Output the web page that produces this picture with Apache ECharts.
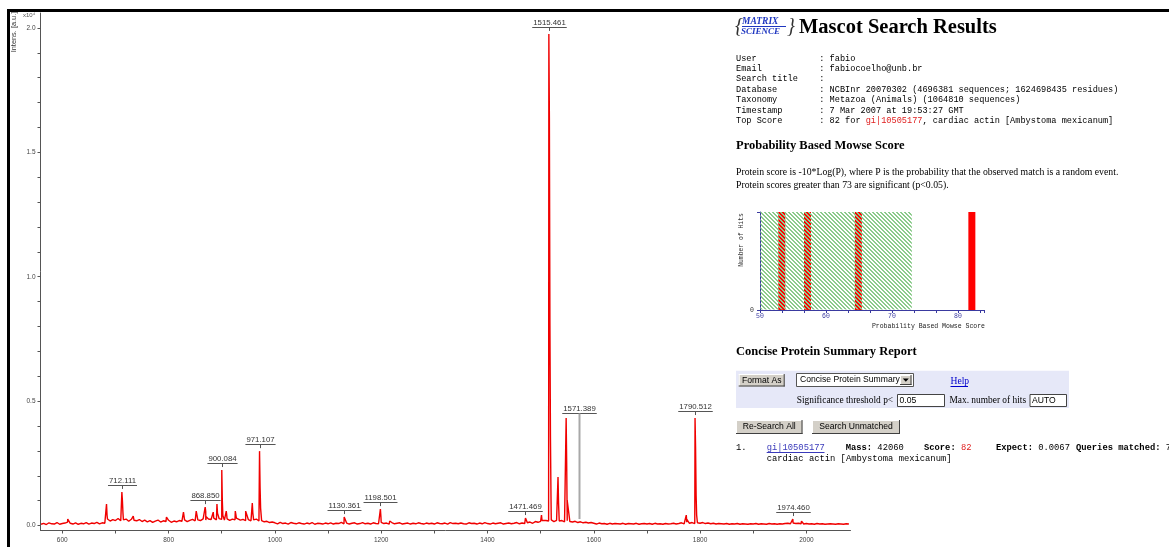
<!DOCTYPE html>
<html><head><meta charset="utf-8">
<script src="https://cdn.jsdelivr.net/npm/echarts@6/dist/echarts.min.js"></script>
<style>html,body{margin:0;padding:0;background:#fff}#c{width:1169px;height:547px}</style>
</head><body><div id="c"></div>
<script>
// ---------------- DATA ----------------
// Spectrum baseline noise, sampled every 5 Da from 560 Da (intensity in counts)
const baseStart = 560, baseStep = 5;
const baseNoise = [
  50, 90, 40, 110, 70, 60, 120, 50, 80, 100,        // 560-605
  140, 90, 60, 110, 50, 90, 70, 120, 60, 100,       // 610-655
  80, 130, 70, 110, 90,                             // 660-680
  260, 180, 240, 200, 280, 190, 230, 260, 170, 250, 210, 190, 240, 160, 220, // 685-755
  150, 200, 130, 180, 220, 140, 190, 160, 210, 130, // 760-805
  180, 150, 200, 170, 230, 160, 210, 250, 190, 230, // 810-855
  200, 270, 220, 260, 240, 300, 230, 280, 250, 220, // 860-905
  270, 210, 260, 230, 280, 220, 250, 200, 240, 190, // 910-955
  230, 260, 180, 200, 150, 170, 120, 140,           // 960-995
  110, 70, 130, 80, 100, 60, 120, 90, 70, 110,      // 1000
  80, 60, 100, 70, 120, 50, 90, 80, 60, 100,        // 1050
  70, 110, 60, 90, 80, 130, 70, 100, 60, 90,        // 1100
  110, 60, 80, 120, 70, 90, 60, 110, 80, 70,        // 1150
  130, 80, 100, 60, 120, 70, 90, 110, 60, 80,       // 1200
  100, 60, 90, 70, 110, 80, 60, 100, 70, 90,        // 1250
  60, 110, 80, 70, 100, 60, 120, 80, 90, 70,        // 1300
  100, 70, 60, 110, 80, 90, 60, 100, 70, 120,       // 1350
  80, 60, 100, 70, 90, 110, 60, 80, 100, 70,        // 1400
  90, 120, 70, 100, 80, 110, 140, 90, 160, 130,     // 1450
  170, 140, 200, 180, 230, 160, 210, 180, 200, 150, // 1500
  190, 160, 140, 170, 120, 150, 110, 130, 100, 120, // 1550
  90, 60, 100, 70, 80, 50, 90, 60, 80, 70,          // 1600
  60, 90, 50, 80, 70, 60, 90, 50, 70, 80,           // 1650
  60, 80, 50, 90, 60, 70, 50, 80, 60, 70,           // 1700
  90, 60, 80, 110, 70, 130, 90, 120, 80, 110,       // 1750
  90, 120, 80, 100, 70, 90, 60, 80, 70, 60,         // 1800
  80, 50, 70, 60, 80, 50, 70, 60, 50, 70,           // 1850
  60, 80, 50, 70, 60, 50, 80, 60, 70, 50,           // 1900
  70, 60, 80, 90, 70, 100, 80, 90, 70, 60,          // 1950
  80, 60, 70, 50, 80, 60, 70, 50, 60, 70,           // 2000
  60, 50, 70, 60, 50, 70, 60                        // 2050-2080
];
// Peaks: [m/z, intensity]
const peakPoints = [
  [610.2, 260],
  [683.2, 860], [684.2, 420], [685.2, 300],
  [712.11, 1350], [713.11, 1000], [714.11, 520], [715.1, 300],
  [733.5, 380], [796.0, 340], [828.0, 540], [852.0, 580],
  [868.85, 740], [869.85, 560], [870.85, 350],
  [884.0, 540], [891.0, 860], [892.0, 500],
  [900.08, 2230], [901.08, 1000], [902.08, 400],
  [908.5, 580], [909.5, 400],
  [925.5, 580], [926.5, 450], [927.5, 300],
  [945.0, 580], [957.5, 900], [958.5, 500],
  [971.11, 2990], [972.11, 1550], [973.11, 700],
  [1130.36, 340], [1198.5, 660], [1199.5, 350], [1216.0, 180],
  [1471.47, 300], [1501.6, 420], [1502.6, 200],
  [1515.46, 19760], [1516.46, 16340], [1517.46, 8140], [1518.46, 3560], [1519.46, 1200],
  [1532.7, 1950], [1533.7, 900],
  [1548.0, 4320], [1549.0, 2510], [1550.0, 1000],
  [1571.39, 140],
  [1774.0, 420], [1775.0, 250],
  [1790.51, 4320], [1791.51, 3120], [1792.51, 1230], [1793.51, 420],
  [1806.0, 200], [1974.46, 260], [1975.46, 150], [1990.8, 180], [2022.7, 140]
];
// Peak annotations
const labelMz   = [712.111, 868.850, 900.084, 971.107, 1130.361, 1198.501, 1471.469, 1515.461, 1571.389, 1790.512, 1974.460];
const labelText = ['712.111','868.850','900.084','971.107','1130.361','1198.501','1471.469','1515.461','1571.389','1790.512','1974.460'];
const labelLift = [0, 0, 0, 0, 0, 0, 0, 0, 4520, 0, 0]; // raised label level (counts), 0 = just above peak
// Spectrum axes
const xTicks  = [600,700,800,900,1000,1100,1200,1300,1400,1500,1600,1700,1800,1900,2000];
const xLabels = [600,800,1000,1200,1400,1600,1800,2000];
const yTicks  = [0,1000,2000,3000,4000,5000,6000,7000,8000,9000,10000,11000,12000,13000,14000,15000,16000,17000,18000,19000,20000];
const yLabels = [0,5000,10000,15000,20000];
// Mowse score histogram
const mowseScores = [53.3, 57.2, 64.9, 82.1];
const mowseHits   = [1, 1, 1, 1];
const mowseThreshold = 73;
// Mascot text
const infoLabels = ['User','Email','Search title','Database','Taxonomy','Timestamp','Top Score'];
const infoValues = [': fabio', ': fabiocoelho@unb.br', ':', ': NCBInr 20070302 (4696381 sequences; 1624698435 residues)',
                    ': Metazoa (Animals) (1064810 sequences)', ': 7 Mar 2007 at 19:53:27 GMT', ''];

// ---------------- BUILD ----------------
const spectrum = baseNoise.map((v, i) => [baseStart + i * baseStep, v]).concat(peakPoints).sort((a, b) => a[0] - b[0]);
function peakHeight(mz) { let b = 0; spectrum.forEach(p => { if (Math.abs(p[0] - mz) < 0.6 && p[1] > b) b = p[1]; }); return b; }
const labelData = labelMz.map((m, i) => [m, peakHeight(m), labelLift[i]]);

const SANS = '"Liberation Sans", Arial, sans-serif';
const SERIF = '"Liberation Serif", "Times New Roman", serif';
const MONO = '"Liberation Mono", "Courier New", monospace';
const LABEL_FONT = '7.8px ' + SANS;
const mctx = document.createElement('canvas').getContext('2d');
function tw(t, f) { mctx.font = f; return mctx.measureText(t).width; }

const hatch = document.createElement('canvas'); hatch.width = 4; hatch.height = 4;
const hc = hatch.getContext('2d'); hc.fillStyle = '#8CCB8C';
for (let i = 0; i < 4; i++) { hc.fillRect(i, i, 1, 1); hc.fillRect((i + 1) % 4, i, 1, 1); }

function T(x, y, text, font, fill, align, extra) {
  return Object.assign({ type: 'text', x: x, y: y, silent: true, style: { text: text, font: font, fill: fill || '#000',
    align: align || 'left', textAlign: align || 'left', verticalAlign: 'middle', textVerticalAlign: 'middle' } }, extra || {});
}
function R(x, y, w, h, fill, stroke) { return { type: 'rect', silent: true, shape: { x: x, y: y, width: w, height: h }, style: { fill: fill, stroke: stroke || null, lineWidth: 1 } }; }
function L(x1, y1, x2, y2, stroke, w) { return { type: 'line', silent: true, shape: { x1: x1, y1: y1, x2: x2, y2: y2 }, style: { stroke: stroke, lineWidth: w || 1 } }; }
function button(x, y, w, h, label) {
  return [R(x, y, w, h, '#D4D0C8', null), L(x, y + 0.5, x + w, y + 0.5, '#FFFFFF'), L(x + 0.5, y, x + 0.5, y + h, '#FFFFFF'),
    L(x, y + h - 0.5, x + w, y + h - 0.5, '#404040'), L(x + w - 0.5, y, x + w - 0.5, y + h, '#404040'),
    T(x + w / 2, y + h / 2, label, '8.6px ' + SANS, '#000', 'center')];
}

const g = [];
// frame
g.push(L(7, 10.5, 1169, 10.5, '#000', 3), L(8.5, 9, 8.5, 547, '#000', 3));
// spectrum axis titles
g.push(T(13.5, 32, 'Intens. [a.u.]', '7.4px ' + SANS, '#333', 'center', { rotation: Math.PI / 2 }));
g.push(T(23, 15, 'x10\u2074', '6px ' + SANS, '#555', 'left'));
// Mascot header
g.push(T(735, 27, '{', 'italic 20px ' + SERIF, '#333', 'left'));
g.push(T(742, 22, 'MATRIX', 'italic bold 9.5px ' + SERIF, '#1E36C0', 'left'));
g.push(L(742, 26.5, 786, 26.5, '#1E36C0', 1));
g.push(T(741, 31.5, 'SCIENCE', 'italic bold 9px ' + SERIF, '#1E36C0', 'left'));
g.push(T(787, 27, '}', 'italic 20px ' + SERIF, '#333', 'left'));
g.push(T(799, 28, 'Mascot Search Results', 'bold 20.5px ' + SERIF, '#000', 'left'));
const infoY = [58.3, 68.8, 79.2, 89.6, 100.1, 110.5, 121];
infoLabels.forEach((l, i) => {
  g.push(T(736, infoY[i], l, '8.6px ' + MONO, '#000', 'left'));
  if (i < 6) g.push(T(819.3, infoY[i], infoValues[i], '8.6px ' + MONO, '#000', 'left'));
});
g.push({ type: 'text', x: 819.3, y: infoY[6], silent: true, style: {
  text: '{a|: 82 for }{r|gi|10505177}{a|, cardiac actin [Ambystoma mexicanum]}', verticalAlign: 'middle', textVerticalAlign: 'middle',
  rich: { a: { font: '8.6px ' + MONO, fill: '#000', color: '#000' }, r: { font: '8.6px ' + MONO, fill: '#E02020', color: '#E02020' } } } });
g.push(T(736, 145.7, 'Probability Based Mowse Score', 'bold 12.5px ' + SERIF, '#000', 'left'));
g.push(T(736, 172.7, 'Protein score is -10*Log(P), where P is the probability that the observed match is a random event.', '9.75px ' + SERIF, '#000', 'left'));
g.push(T(736, 185.7, 'Protein scores greater than 73 are significant (p<0.05).', '9.75px ' + SERIF, '#000', 'left'));
// histogram labels
g.push(T(741, 240, 'Number of Hits', '6.4px ' + MONO, '#333', 'center', { rotation: Math.PI / 2 }));
g.push(T(985, 326.7, 'Probability Based Mowse Score', '6.5px ' + MONO, '#222', 'right'));
// report
g.push(T(736, 351.7, 'Concise Protein Summary Report', 'bold 12.5px ' + SERIF, '#000', 'left'));
g.push(R(736, 370.7, 333, 37.3, '#E6E8F8', null));
button(738.7, 374, 46, 12.5, 'Format As').forEach(e => g.push(e));
g.push(R(796.5, 373.5, 117, 13, '#FFFFFF', '#555'));
g.push(T(800, 380, 'Concise Protein Summary', '8.6px ' + SANS, '#000', 'left'));
button(900, 375, 11.5, 10, '').forEach(e => g.push(e));
g.push({ type: 'polygon', silent: true, shape: { points: [[902.8, 378.5], [908.8, 378.5], [905.8, 381.8]] }, style: { fill: '#000' } });
g.push(T(950.5, 381.5, 'Help', '9.6px ' + SERIF, '#0000CC', 'left'));
g.push(L(950.5, 386.5, 968, 386.5, '#0000CC', 1));
g.push(T(796.7, 400.5, 'Significance threshold p<', '9.4px ' + SERIF, '#000', 'left'));
g.push(R(897.5, 394.5, 47, 12, '#FFFFFF', '#444'));
g.push(T(899.5, 400.5, '0.05', '8.6px ' + SANS, '#000', 'left'));
g.push(T(949.5, 400.5, 'Max. number of hits', '9.4px ' + SERIF, '#000', 'left'));
g.push(R(1030, 394.5, 36.5, 12, '#FFFFFF', '#444'));
g.push(T(1032, 400.5, 'AUTO', '8.6px ' + SANS, '#000', 'left'));
button(736, 420, 66.5, 14, 'Re-Search All').forEach(e => g.push(e));
button(812, 420, 88, 14, 'Search Unmatched').forEach(e => g.push(e));
// result line
g.push(T(736, 447.7, '1.', '8.8px ' + MONO, '#000', 'left'));
g.push(T(766.7, 447.7, 'gi|10505177', '8.8px ' + MONO, '#3A3ABA', 'left'));
g.push(L(766.7, 452.5, 824.5, 452.5, '#3A3ABA', 1));
const rich = { b: { font: 'bold 8.8px ' + MONO, fill: '#000', color: '#000' }, n: { font: '8.8px ' + MONO, fill: '#000', color: '#000' }, r: { font: '8.8px ' + MONO, fill: '#E02020', color: '#E02020' } };
[[845.7, '{b|Mass:}{n| 42060}'], [924, '{b|Score:}{n| }{r|82}'], [996, '{b|Expect:}{n| 0.0067}'], [1076, '{b|Queries matched:}{n| 7}']].forEach(p => {
  g.push({ type: 'text', x: p[0], y: 447.7, silent: true, style: { text: p[1], rich: rich, verticalAlign: 'middle', textVerticalAlign: 'middle' } });
});
g.push(T(766.7, 458.3, 'cardiac actin [Ambystoma mexicanum]', '8.8px ' + MONO, '#000', 'left'));

const axisGray = '#555';
const option = {
  animation: false,
  backgroundColor: '#fff',
  grid: [
    { left: 40.5, top: 13, width: 810, bottom: 16.5 },
    { left: 760, top: 212, width: 224.4, height: 98 }
  ],
  xAxis: [
    { type: 'value', gridIndex: 0, min: 559, max: 2083,
      axisLine: { onZero: false, lineStyle: { color: axisGray, width: 1 } },
      axisTick: { show: true, length: 3, customValues: xTicks, lineStyle: { color: axisGray } },
      axisLabel: { customValues: xLabels, formatter: v => String(v), fontSize: 6.5, fontFamily: 'Liberation Sans', color: '#444', margin: 6 },
      splitLine: { show: false } },
    { type: 'value', gridIndex: 1, min: 50, max: 84, interval: 10,
      axisLine: { onZero: false, lineStyle: { color: '#3A3AA0' } },
      axisTick: { length: 3, lineStyle: { color: '#3A3AA0' } },
      minorTick: { show: true, splitNumber: 3, length: 3, lineStyle: { color: '#3A3AA0' } },
      axisLabel: { fontSize: 6.5, fontFamily: 'Liberation Mono', color: '#3A3AA0', margin: 3, showMaxLabel: false },
      splitLine: { show: false } }
  ],
  yAxis: [
    { type: 'value', gridIndex: 0, min: -200, max: 20600,
      axisLine: { show: true, lineStyle: { color: axisGray, width: 1 } },
      axisTick: { show: true, length: 3, customValues: yTicks, lineStyle: { color: axisGray } },
      axisLabel: { customValues: yLabels, formatter: v => (v / 10000).toFixed(1), fontSize: 6.5, fontFamily: 'Liberation Sans', color: '#444', margin: 5 },
      splitLine: { show: false } },
    { type: 'value', gridIndex: 1, min: 0, max: 1, interval: 1,
      axisLine: { show: true, lineStyle: { color: '#3A3AA0' } },
      axisTick: { show: true, length: 3, lineStyle: { color: '#3A3AA0' } },
      axisLabel: { formatter: v => (v === 0 ? '0' : ''), fontSize: 6.5, fontFamily: 'Liberation Mono', color: '#333', margin: 6 },
      splitLine: { show: false } }
  ],
  series: [
    { type: 'line', xAxisIndex: 0, yAxisIndex: 0, data: spectrum, showSymbol: false, symbol: 'none',
      lineStyle: { color: '#F00000', width: 1.4 }, z: 2, silent: true },
    { type: 'custom', xAxisIndex: 0, yAxisIndex: 0, data: labelData, z: 3, silent: true, clip: false,
      encode: { x: 0, y: 1 },
      renderItem: function (params, api) {
        const mz = api.value(0), h = api.value(1), lift = api.value(2);
        const p = api.coord([mz, h]);
        const x = Math.round(p[0]) + 0.5;
        const bottom = p[1] - 3;
        const uy = Math.round(lift > 0 ? api.coord([mz, lift])[1] : p[1] - 7) + 0.5;
        const txt = labelText[params.dataIndex];
        const w = tw(txt, LABEL_FONT) + 2;
        return { type: 'group', children: [
          { type: 'text', x: x, y: uy - 1, style: { text: txt, font: LABEL_FONT, fill: '#333', align: 'center', textAlign: 'center', verticalAlign: 'bottom', textVerticalAlign: 'bottom' } },
          { type: 'line', shape: { x1: x - w / 2, y1: uy, x2: x + w / 2, y2: uy }, style: { stroke: '#555', lineWidth: 1 } },
          { type: 'line', shape: { x1: x, y1: uy, x2: x, y2: bottom }, style: { stroke: lift > 0 ? '#A8A8A8' : '#555', lineWidth: lift > 0 ? 2 : 1 } }
        ] };
      } },
    { type: 'bar', xAxisIndex: 1, yAxisIndex: 1, data: mowseScores.map((s, i) => [s, mowseHits[i]]), barWidth: 7,
      itemStyle: { color: '#FF0000' }, z: 2, silent: true },
    { type: 'custom', xAxisIndex: 1, yAxisIndex: 1, data: [[50, mowseThreshold, 0, 1]], z: 5, silent: true,
      encode: { x: [0, 1], y: [2, 3] },
      renderItem: function (params, api) {
        const a = api.coord([api.value(0), api.value(3)]);
        const b = api.coord([api.value(1), api.value(2)]);
        return { type: 'rect', shape: { x: a[0] + 0.5, y: a[1], width: b[0] - a[0] - 0.5, height: b[1] - a[1] - 0.5 },
          style: { fill: { image: hatch, repeat: 'repeat' } } };
      } }
  ],
  graphic: g
};
const chart = echarts.init(document.getElementById('c'));
chart.setOption(option);
</script></body></html>
